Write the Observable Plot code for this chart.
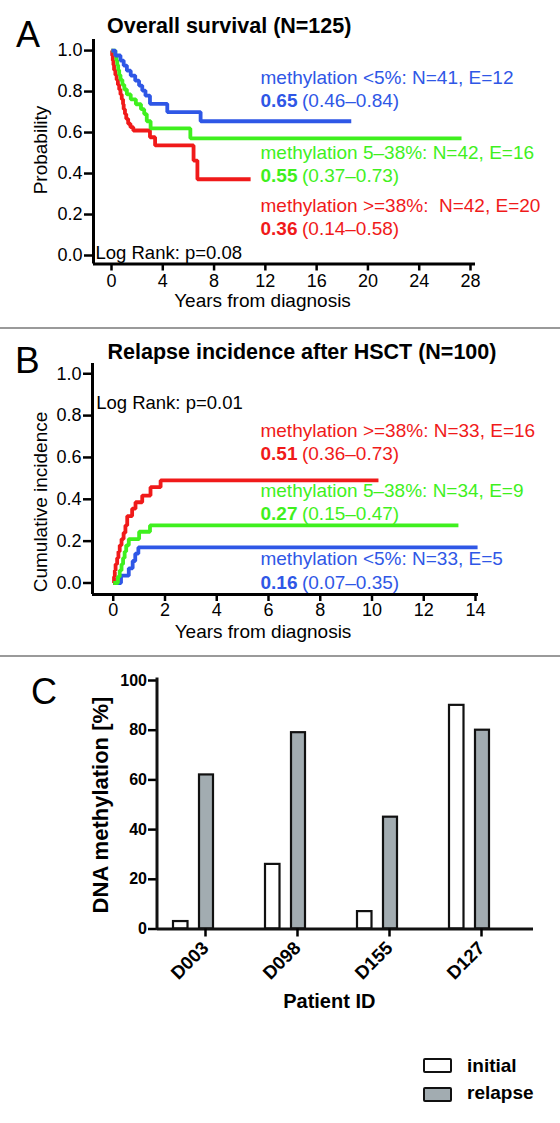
<!DOCTYPE html>
<html>
<head>
<meta charset="utf-8">
<script src="https://cdn.jsdelivr.net/npm/d3@7"></script>
<script src="https://cdn.jsdelivr.net/npm/@observablehq/plot@0.6"></script>
<style>
  body { margin: 0; background: #fff; }
  #fig { position: relative; width: 560px; height: 1123px; overflow: hidden; background: #fff;
         font-family: "Liberation Sans", Arial, Helvetica, sans-serif; color: #000; }
  .abs { position: absolute; white-space: nowrap; line-height: 1; }
  .panel { position: absolute; left: 0; }
  .sep { position: absolute; left: 0; width: 560px; height: 2px; background: #9a9a9a; }
  .box { position: absolute; width: 29px; height: 15px; box-sizing: border-box; border: 2.2px solid #111; border-radius: 2px; }
</style>
</head>
<body>
<div id="fig"></div>
<script>
const FONT = '"Liberation Sans", Arial, Helvetica, sans-serif';

// ---------------- Panel A: overall survival (Kaplan–Meier steps) ----------------
const groups = ["low", "mid", "high"];
const groupColors = ["#2f57e6", "#3ff01e", "#f01a1a"];

const osLowTime  = [0, 0.3, 0.7, 0.95, 1.2, 1.5, 1.85, 2.15, 2.4, 2.65, 3.0, 4.35, 6.95, 18.7];
const osLowProb  = [1.0, 0.976, 0.951, 0.927, 0.902, 0.878, 0.853, 0.829, 0.805, 0.78, 0.74, 0.70, 0.655, 0.655];
const osMidTime  = [0, 0.3, 0.38, 0.45, 0.52, 0.6, 0.7, 0.85, 1.0, 1.2, 1.5, 1.9, 2.3, 2.55, 2.75, 3.05, 6.15, 27.3];
const osMidProb  = [1.0, 0.976, 0.952, 0.929, 0.905, 0.881, 0.857, 0.833, 0.81, 0.786, 0.762, 0.738, 0.714, 0.69, 0.655, 0.62, 0.572, 0.572];
const osHighTime = [0, 0.05, 0.1, 0.15, 0.2, 0.3, 0.4, 0.5, 0.6, 0.7, 0.8, 0.9, 0.95, 1.05, 1.15, 1.3, 1.48, 1.7, 3.0, 3.4, 6.4, 6.7, 10.85];
const osHighProb = [1.0, 0.976, 0.952, 0.929, 0.905, 0.881, 0.857, 0.833, 0.81, 0.786, 0.762, 0.738, 0.714, 0.69, 0.667, 0.643, 0.626, 0.61, 0.577, 0.537, 0.463, 0.372, 0.372];

const osTicksX = [0, 4, 8, 12, 16, 20, 24, 28];
const probTicks = [0, 0.2, 0.4, 0.6, 0.8, 1.0];

const osHeads = ["methylation <5%: N=41, E=12", "methylation 5–38%: N=42, E=16", "methylation >=38%:\u00a0 N=42, E=20"];
const osEst   = ["0.65", "0.55", "0.36"];
const osCI    = ["(0.46–0.84)", "(0.37–0.73)", "(0.14–0.58)"];
const osLogRank = "Log Rank: p=0.08";

// ---------------- Panel B: relapse incidence after HSCT ----------------
const riLowTime  = [0, 0.3, 0.6, 0.75, 0.85, 0.97, 14.08];
const riLowProb  = [0, 0.035, 0.07, 0.105, 0.14, 0.17, 0.17];
const riMidTime  = [0, 0.18, 0.25, 0.32, 0.38, 0.44, 0.5, 0.6, 1.0, 1.42, 13.34];
const riMidProb  = [0, 0.03, 0.06, 0.09, 0.12, 0.15, 0.18, 0.21, 0.245, 0.275, 0.275];
const riHighTime = [0, 0.03, 0.06, 0.09, 0.15, 0.2, 0.25, 0.32, 0.4, 0.47, 0.54, 0.73, 0.86, 1.12, 1.44, 1.83, 10.25];
const riHighProb = [0, 0.03, 0.06, 0.09, 0.12, 0.15, 0.18, 0.21, 0.24, 0.275, 0.32, 0.355, 0.386, 0.418, 0.458, 0.49, 0.49];

const riTicksX = [0, 2, 4, 6, 8, 10, 12, 14];

const riHeads = ["methylation >=38%: N=33, E=16", "methylation 5–38%: N=34, E=9", "methylation <5%: N=33, E=5"];
const riGroupsOrder = ["high", "mid", "low"];
const riEst   = ["0.51", "0.27", "0.16"];
const riCI    = ["(0.36–0.73)", "(0.15–0.47)", "(0.07–0.35)"];
const riLogRank = "Log Rank: p=0.01";

// ---------------- Panel C: DNA methylation per patient ----------------
const patients = ["D003", "D098", "D155", "D127"];
const methInitial = [3, 26, 7, 90];
const methRelapse = [62, 79, 45, 80];
const methTicks = [0, 20, 40, 60, 80, 100];
const legendLabels = ["initial", "relapse"];

// ---------------- helpers ----------------
const fig = document.getElementById("fig");
const steps = (group, times, probs) => times.map((t, i) => ({group, t, p: probs[i]}));

function addText(txt, x, baseline, size, weight, align) {
  const d = document.createElement("div");
  d.className = "abs";
  d.textContent = txt;
  d.style.fontSize = size + "px";
  d.style.fontWeight = weight || "normal";
  d.style.top = (baseline - 0.8465 * size) + "px";
  d.style.left = x + "px";
  if (align === "center") d.style.transform = "translateX(-50%)";
  fig.appendChild(d);
  return d;
}
function addVText(txt, cx, cy, size, weight) {
  const d = document.createElement("div");
  d.className = "abs";
  d.textContent = txt;
  d.style.fontSize = size + "px";
  d.style.fontWeight = weight || "normal";
  d.style.left = cx + "px";
  d.style.top = cy + "px";
  d.style.transform = "translate(-50%,-50%) rotate(-90deg)";
  fig.appendChild(d);
}
function place(svg, top) {
  svg.classList.add("panel");
  svg.style.top = top + "px";
  fig.appendChild(svg);
}
const svgStyle = {fontFamily: FONT, color: "#000", background: "transparent", overflow: "visible"};

// ---------------- Panel A ----------------
const osRows = [
  ...steps("high", osHighTime, osHighProb),
  ...steps("mid", osMidTime, osMidProb),
  ...steps("low", osLowTime, osLowProb)
];
const osAnnAt = [{x: 11.62, yH: 0.837, yE: 0.723}, {x: 11.62, yH: 0.471, yE: 0.358}, {x: 11.62, yH: 0.211, yE: 0.098}];
const osAnn = groups.map((g, i) => ({group: g, head: osHeads[i], est: osEst[i], ci: osCI[i], ...osAnnAt[i]}));
const xA = [-1.404, 28.39], yA = [-0.0415, 1.054];

const plotA = Plot.plot({
  width: 560, height: 300,
  marginLeft: 93, marginRight: 85, marginTop: 39, marginBottom: 36.5,
  style: svgStyle,
  x: {domain: xA},
  y: {domain: yA},
  color: {domain: groups, range: groupColors},
  marks: [
    Plot.line(osRows, {x: "t", y: "p", z: "group", stroke: "group", curve: "step-after",
      strokeWidth: 3.8, strokeLinejoin: "miter", strokeLinecap: "butt"}),
    Plot.text(osAnn, {x: "x", y: "yH", text: "head", fill: "group", textAnchor: "start", lineAnchor: "bottom", fontSize: 19}),
    Plot.text(osAnn, {x: "x", y: "yE", text: "est", fill: "group", textAnchor: "start", lineAnchor: "bottom", fontSize: 19, fontWeight: "bold"}),
    Plot.text(osAnn, {x: "x", y: "yE", text: "ci", fill: "group", textAnchor: "start", lineAnchor: "bottom", fontSize: 19, dx: 41.5}),
    Plot.text([{x: -1.25, y: -0.018, text: osLogRank}], {x: "x", y: "y", text: "text", fill: "#000",
      textAnchor: "start", lineAnchor: "bottom", fontSize: 18.5}),
    Plot.ruleX([xA[0]], {stroke: "#000", strokeWidth: 3}),
    Plot.ruleY([yA[0]], {stroke: "#000", strokeWidth: 3}),
    Plot.axisY({ticks: probTicks, tickFormat: d3.format(".1f"), tickSize: 9, tickPadding: 2,
      strokeWidth: 2.5, fontSize: 18, label: null}),
    Plot.axisX({ticks: osTicksX, tickSize: 7, tickPadding: 3, strokeWidth: 2.5, fontSize: 18, label: null})
  ]
});
place(plotA, 0);

// ---------------- Panel B ----------------
const riRows = [
  ...steps("low", riLowTime, riLowProb),
  ...steps("high", riHighTime, riHighProb),
  ...steps("mid", riMidTime, riMidProb)
];
const riAnnAt = [{x: 5.69, yH: 0.697, yE: 0.589}, {x: 5.69, yH: 0.410, yE: 0.299}, {x: 5.69, yH: 0.084, yE: -0.028}];
const riAnn = riGroupsOrder.map((g, i) => ({group: g, head: riHeads[i], est: riEst[i], ci: riCI[i], ...riAnnAt[i]}));
const xB = [-0.802, 14.116], yB = [-0.055, 1.049];

const plotB = Plot.plot({
  width: 560, height: 300,
  marginLeft: 92, marginRight: 82, marginTop: 33, marginBottom: 36,
  style: svgStyle,
  x: {domain: xB},
  y: {domain: yB},
  color: {domain: groups, range: groupColors},
  marks: [
    Plot.line(riRows, {x: "t", y: "p", z: "group", stroke: "group", curve: "step-after",
      strokeWidth: 3.8, strokeLinejoin: "miter", strokeLinecap: "butt"}),
    Plot.text(riAnn, {x: "x", y: "yH", text: "head", fill: "group", textAnchor: "start", lineAnchor: "bottom", fontSize: 19}),
    Plot.text(riAnn, {x: "x", y: "yE", text: "est", fill: "group", textAnchor: "start", lineAnchor: "bottom", fontSize: 19, fontWeight: "bold"}),
    Plot.text(riAnn, {x: "x", y: "yE", text: "ci", fill: "group", textAnchor: "start", lineAnchor: "bottom", fontSize: 19, dx: 41.5}),
    Plot.text([{x: -0.66, y: 0.833, text: riLogRank}], {x: "x", y: "y", text: "text", fill: "#000",
      textAnchor: "start", lineAnchor: "bottom", fontSize: 18.5}),
    Plot.ruleX([xB[0]], {stroke: "#000", strokeWidth: 3}),
    Plot.ruleY([yB[0]], {stroke: "#000", strokeWidth: 3}),
    Plot.axisY({ticks: probTicks, tickFormat: d3.format(".1f"), tickSize: 9, tickPadding: 2,
      strokeWidth: 2.5, fontSize: 18, label: null}),
    Plot.axisX({ticks: riTicksX, tickSize: 7, tickPadding: 2, strokeWidth: 2.5, fontSize: 18, label: null})
  ]
});
place(plotB, 330);

// ---------------- Panel C ----------------
const cRows = patients.map((id, i) => ({id, initial: methInitial[i], relapse: methRelapse[i]}));
const plotC = Plot.plot({
  width: 560, height: 350,
  marginLeft: 157, marginRight: 32, marginTop: 20, marginBottom: 81.5,
  style: svgStyle,
  x: {domain: patients, padding: 0},
  y: {domain: [0, 100]},
  marks: [
    Plot.barY(cRows, {x: "id", y: "initial", fill: "#ffffff", stroke: "#111", strokeWidth: 2.2, insetLeft: 14, insetRight: 63.5}),
    Plot.barY(cRows, {x: "id", y: "relapse", fill: "#a2acb1", stroke: "#111", strokeWidth: 2.2, insetLeft: 40, insetRight: 38}),
    Plot.ruleY([0], {stroke: "#111", strokeWidth: 3, insetRight: -5}),
    Plot.axisY({ticks: methTicks, tickSize: 9, tickPadding: 1.5, strokeWidth: 2.5, fontSize: 16, fontWeight: "bold", label: null}),
    Plot.axisX({tickSize: 8, tickPadding: 8, tickRotate: -45, strokeWidth: 2.5, fontSize: 18.5, fontWeight: "bold", label: null})
  ]
});
{
  const ys = plotC.scale("y"), xs = plotC.scale("x");
  d3.select(plotC).append("line")
    .attr("x1", xs.range[0]).attr("x2", xs.range[0])
    .attr("y1", ys.apply(101)).attr("y2", ys.apply(0) + 1.5)
    .attr("stroke", "#111").attr("stroke-width", 3);
}
place(plotC, 660);

// ---------------- titles, letters, axis labels, separators, legend ----------------
addText("A", 16, 47, 36);
addText("Overall survival (N=125)", 107, 34.3, 21.5, "bold");
addVText("Probability", 40, 150, 19);
addText("Years from diagnosis", 262.5, 307, 19, "normal", "center");

const sep1 = document.createElement("div"); sep1.className = "sep"; sep1.style.top = "326.5px"; fig.appendChild(sep1);

addText("B", 15, 373, 37);
addText("Relapse incidence after HSCT (N=100)", 107.5, 360, 21.5, "bold");
addVText("Cumulative incidence", 40, 502, 19);
addText("Years from diagnosis", 263, 638, 19, "normal", "center");

const sep2 = document.createElement("div"); sep2.className = "sep"; sep2.style.top = "654.5px"; fig.appendChild(sep2);

addText("C", 31, 704, 36);
addVText("DNA methylation [%]", 101, 805, 22, "bold");
addText("Patient ID", 329.3, 1008, 20, "bold", "center");

const legendFills = ["#ffffff", "#a2acb1"];
const legendTops = [1058, 1087];
const legendBaselines = [1072.5, 1099];
legendLabels.forEach((lab, i) => {
  const b = document.createElement("div");
  b.className = "box";
  b.style.left = "423px";
  b.style.top = legendTops[i] + "px";
  b.style.background = legendFills[i];
  fig.appendChild(b);
  addText(lab, 467, legendBaselines[i], 19, "bold");
});
</script>
</body>
</html>
